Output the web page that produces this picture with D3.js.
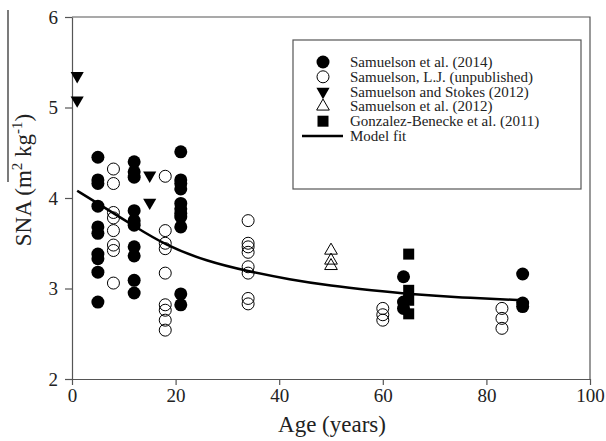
<!DOCTYPE html>
<html>
<head>
<meta charset="utf-8">
<script src="https://cdn.jsdelivr.net/npm/d3@7"></script>
<style>
  body { margin: 0; background: #fff; }
  text { font-family: "Liberation Serif", "Times New Roman", serif; fill: #222; }
</style>
</head>
<body>
<svg id="canvas"></svg>
<script>
const WIDTH = 606;
const HEIGHT = 441;

// Samuelson et al. (2014) - filled circles
const filledAges = [5, 5, 5, 5, 5, 5, 5, 5, 5, 5,
  12, 12, 12, 12, 12, 12, 12, 12, 12, 12,
  21, 21, 21, 21, 21, 21, 21, 21, 21, 21, 21,
  64, 64, 64, 87, 87, 87];
const filledSna = [4.45, 4.20, 4.16, 3.91, 3.68, 3.61, 3.38, 3.33, 3.18, 2.85,
  4.40, 4.29, 4.23, 3.86, 3.75, 3.70, 3.46, 3.36, 3.09, 2.95,
  4.51, 4.20, 4.16, 4.10, 3.94, 3.88, 3.83, 3.79, 3.68, 2.94, 2.82,
  3.13, 2.85, 2.78, 3.16, 2.84, 2.80];

// Samuelson, L.J. (unpublished) - open circles
const openAges = [8, 8, 8, 8, 8, 8, 8, 8,
  18, 18, 18, 18, 18, 18, 18, 18, 18,
  34, 34, 34, 34, 34, 34, 34, 34,
  60, 60, 60, 83, 83, 83];
const openSna = [4.32, 4.16, 3.84, 3.78, 3.64, 3.48, 3.42, 3.06,
  4.24, 3.64, 3.50, 3.44, 3.17, 2.82, 2.76, 2.65, 2.54,
  3.75, 3.50, 3.46, 3.40, 3.24, 3.17, 2.89, 2.83,
  2.78, 2.71, 2.65, 2.78, 2.67, 2.56];

// Samuelson and Stokes (2012) - filled down triangles
const stokesAges = [1, 1, 15, 15];
const stokesSna = [5.35, 5.08, 4.25, 3.95];

// Samuelson et al. (2012) - open up triangles
const sam2012Ages = [50, 50, 50];
const sam2012Sna = [3.42, 3.31, 3.25];

// Gonzalez-Benecke et al. (2011) - filled squares
const gonzAges = [65, 65, 65, 65];
const gonzSna = [3.38, 2.98, 2.87, 2.72];

// Model fit
const fitAges = [1, 5, 12, 18, 26, 34, 42, 50, 58, 65, 75, 87];
const fitSna = [4.08, 3.94, 3.69, 3.48, 3.30, 3.19, 3.10, 3.03, 2.98, 2.94, 2.90, 2.87];

const xTicks = [0, 20, 40, 60, 80, 100];
const yTicks = [2, 3, 4, 5, 6];

const legendLabels = [
  "Samuelson et al. (2014)",
  "Samuelson, L.J. (unpublished)",
  "Samuelson and Stokes (2012)",
  "Samuelson et al. (2012)",
  "Gonzalez-Benecke et al. (2011)",
  "Model fit"
];

const canvas = d3.select("#canvas").attr("width", WIDTH).attr("height", HEIGHT);

const xScale = d3.scaleLinear().domain([0, 100]).range([72, 590]);
const yScale = d3.scaleLinear().domain([2, 6]).range([379, 17]);

const zip = (a, b) => a.map((v, i) => [v, b[i]]);

// frame
canvas.append("path")
  .attr("d", `M${xScale(0)},${yScale(6)}H${xScale(100)}V${yScale(2)}`)
  .attr("fill", "none")
  .attr("stroke", "#555")
  .attr("stroke-width", 1.2);

const drawAxes = () => {
  const xAxis = d3.axisBottom(xScale).tickValues(xTicks).tickFormat(d3.format("d"))
    .tickSize(6).tickSizeOuter(0).tickPadding(4);
  const gx = canvas.append("g")
    .attr("transform", `translate(0, ${yScale(2)})`)
    .call(xAxis);
  const yAxis = d3.axisLeft(yScale).tickValues(yTicks).tickFormat(d3.format("d"))
    .tickSize(7).tickSizeOuter(0).tickPadding(7);
  const gy = canvas.append("g")
    .attr("transform", `translate(${xScale(0)}, 0)`)
    .call(yAxis);
  [gx, gy].forEach((g) => {
    g.selectAll("path, line").attr("stroke", "#555").attr("stroke-width", 1.2);
    g.selectAll("text")
      .style("font-family", '"Liberation Serif", serif')
      .style("font-size", "19px")
      .attr("fill", "#222");
  });

  canvas.append("text")
    .attr("x", 332)
    .attr("y", 432)
    .attr("text-anchor", "middle")
    .style("font-size", "23px")
    .text("Age (years)");

  const yl = canvas.append("text")
    .attr("transform", "translate(31, 180) rotate(-90)")
    .attr("text-anchor", "middle")
    .style("font-size", "23px");
  yl.append("tspan").text("SNA (m");
  yl.append("tspan").attr("dy", -9).style("font-size", "15px").text("2");
  yl.append("tspan").attr("dy", 9).text(" kg");
  yl.append("tspan").attr("dy", -9).style("font-size", "15px").text("-1");
  yl.append("tspan").attr("dy", 9).text(")");

  canvas.append("line")
    .attr("x1", 8).attr("x2", 8)
    .attr("y1", 10).attr("y2", 182)
    .attr("stroke", "#222")
    .attr("stroke-width", 1.2);
};

const triDown = d3.symbol().type(d3.symbolTriangle).size(75);
const triUp = d3.symbol().type(d3.symbolTriangle).size(70);

const drawMarks = () => {
  canvas.append("g").selectAll("circle")
    .data(zip(filledAges, filledSna)).enter()
    .append("circle")
    .attr("cx", (d) => xScale(d[0]))
    .attr("cy", (d) => yScale(d[1]))
    .attr("r", 6.5)
    .attr("fill", "#000");

  canvas.append("g").selectAll("circle")
    .data(zip(openAges, openSna)).enter()
    .append("circle")
    .attr("cx", (d) => xScale(d[0]))
    .attr("cy", (d) => yScale(d[1]))
    .attr("r", 6)
    .attr("fill", "none")
    .attr("stroke", "#000")
    .attr("stroke-width", 1);

  canvas.append("g").selectAll("path")
    .data(zip(stokesAges, stokesSna)).enter()
    .append("path")
    .attr("d", triDown)
    .attr("transform", (d) => `translate(${xScale(d[0])}, ${yScale(d[1])}) rotate(180)`)
    .attr("fill", "#000");

  canvas.append("g").selectAll("path")
    .data(zip(sam2012Ages, sam2012Sna)).enter()
    .append("path")
    .attr("d", triUp)
    .attr("transform", (d) => `translate(${xScale(d[0])}, ${yScale(d[1])})`)
    .attr("fill", "none")
    .attr("stroke", "#000")
    .attr("stroke-width", 1);

  canvas.append("g").selectAll("rect")
    .data(zip(gonzAges, gonzSna)).enter()
    .append("rect")
    .attr("x", (d) => xScale(d[0]) - 5.5)
    .attr("y", (d) => yScale(d[1]) - 5.5)
    .attr("width", 11)
    .attr("height", 11)
    .attr("fill", "#000");

  const line = d3.line()
    .x((d) => xScale(d[0]))
    .y((d) => yScale(d[1]))
    .curve(d3.curveBasis);

  canvas.append("path")
    .datum(zip(fitAges, fitSna))
    .attr("d", line)
    .attr("fill", "none")
    .attr("stroke", "#000")
    .attr("stroke-width", 2.5);
};

const drawLegend = () => {
  const g = canvas.append("g");
  g.append("rect")
    .attr("x", 293).attr("y", 40)
    .attr("width", 288).attr("height", 149)
    .attr("fill", "#fff")
    .attr("stroke", "#555")
    .attr("stroke-width", 1.2);

  const mx = 323;
  const tx = 350;
  const rowY = (i) => 62 + i * 14.8;

  g.append("circle").attr("cx", mx).attr("cy", rowY(0)).attr("r", 6.5).attr("fill", "#000");
  g.append("circle").attr("cx", mx).attr("cy", rowY(1)).attr("r", 6)
    .attr("fill", "none").attr("stroke", "#000");
  g.append("path").attr("d", triDown)
    .attr("transform", `translate(${mx}, ${rowY(2)}) rotate(180)`).attr("fill", "#000");
  g.append("path").attr("d", triUp)
    .attr("transform", `translate(${mx}, ${rowY(3)})`)
    .attr("fill", "none").attr("stroke", "#000");
  g.append("rect").attr("x", mx - 5.5).attr("y", rowY(4) - 5.5)
    .attr("width", 11).attr("height", 11).attr("fill", "#000");
  g.append("line")
    .attr("x1", 302).attr("x2", 343)
    .attr("y1", rowY(5)).attr("y2", rowY(5))
    .attr("stroke", "#000").attr("stroke-width", 2.5);

  g.selectAll("text.leg")
    .data(legendLabels).enter()
    .append("text")
    .attr("class", "leg")
    .attr("x", tx)
    .attr("y", (d, i) => rowY(i) + 5)
    .style("font-size", "15px")
    .text((d) => d);
};

drawAxes();
drawMarks();
drawLegend();
</script>
</body>
</html>
